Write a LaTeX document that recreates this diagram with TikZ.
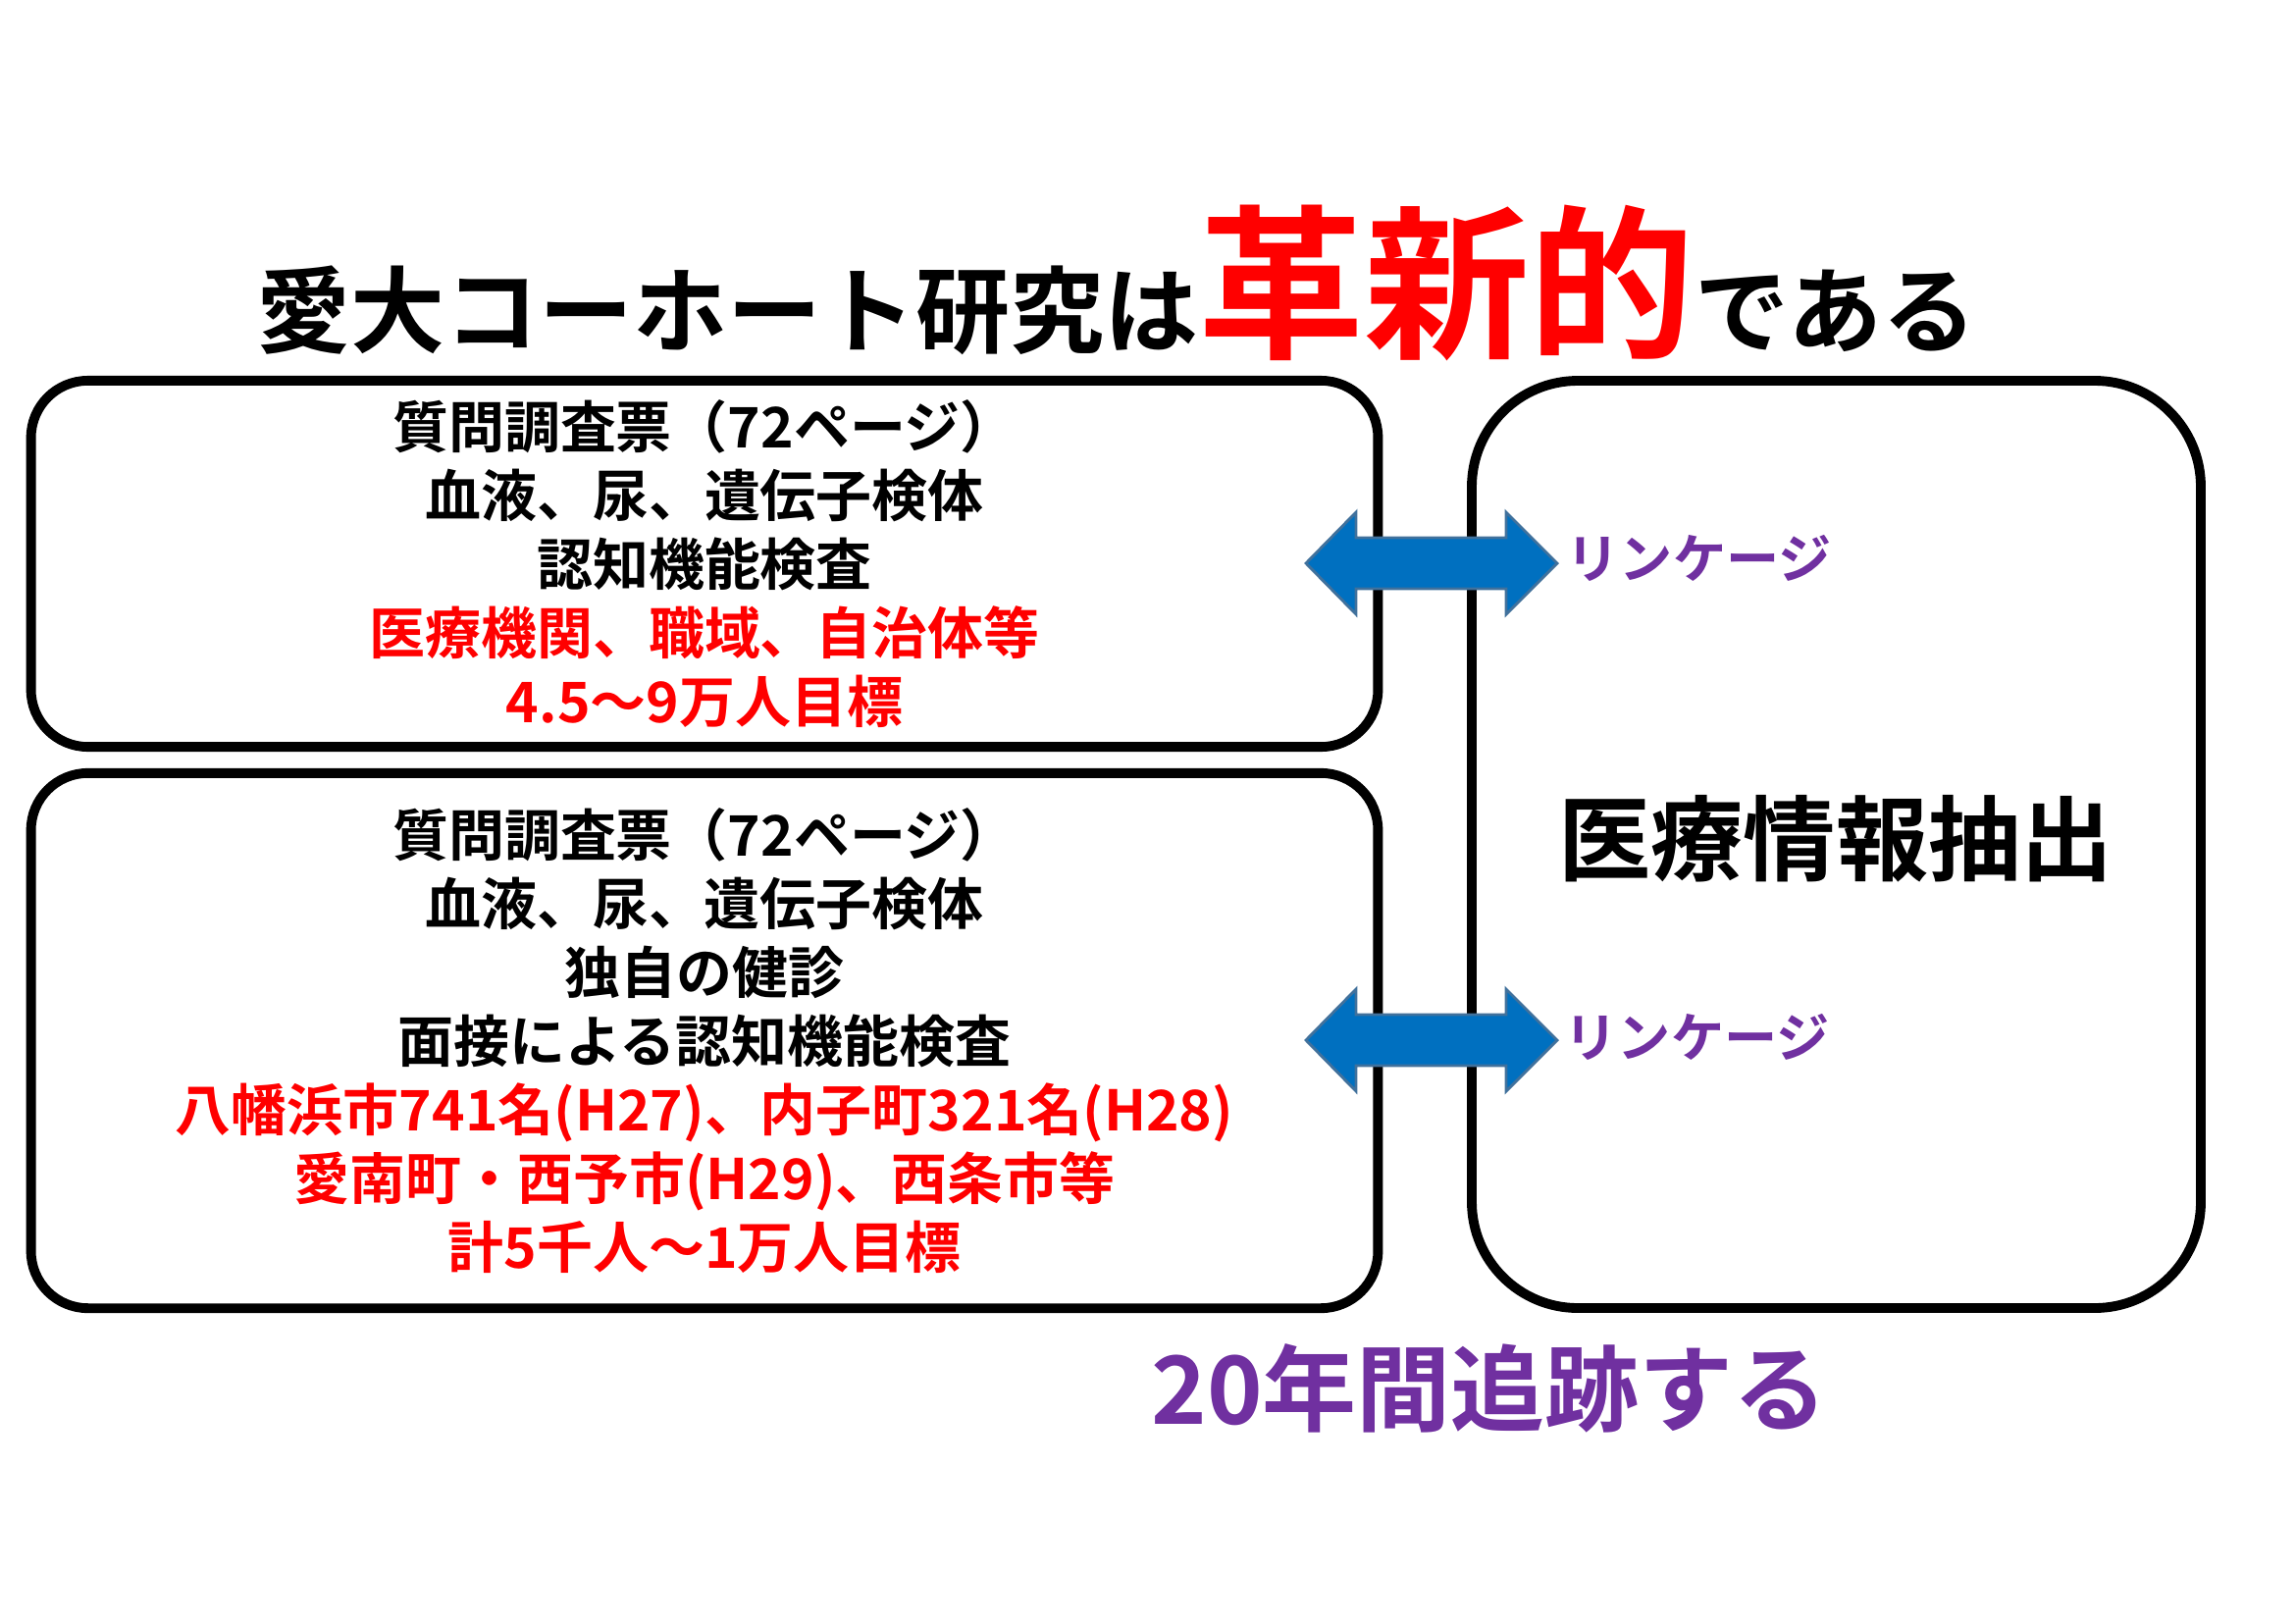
\documentclass[tikz,border=0pt]{standalone}
\usepackage{fontspec}
\setmainfont{Noto Sans CJK JP}[BoldFont={Noto Sans CJK JP Bold}]
\usepackage{tikz}

\definecolor{jred}{HTML}{FF0000}
\definecolor{jpurple}{HTML}{7030A0}
\definecolor{jblue}{HTML}{0070C0}
\definecolor{jedge}{HTML}{41719C}

\begin{document}
\begin{tikzpicture}[x=0.01cm, y=-0.01cm,
  box/.style={draw, line width=2.8pt, rounded corners=0.58cm, align=center,
              inner sep=0pt, font=\bfseries\fontsize{16.2}{19.9}\selectfont},
  linkarrow/.style={fill=jblue, draw=jedge, line width=0.8pt},
  linktext/.style={anchor=west, inner sep=0pt, text=jpurple, font=\bfseries\fontsize{15.4}{18}\selectfont}]
\useasboundingbox (0,0) rectangle (2339,1654);

% Heading
\node[anchor=base, inner sep=0pt, font=\bfseries] (title) at (1138,352)
  {\fontsize{27.3}{30}\selectfont 愛大コーホート研究は\textcolor{jred}{\fontsize{48}{52}\selectfont 革新的}である};

% boxes
\node[box, minimum width=13.72cm, minimum height=3.73cm] (cohortA) at (718,574.5)
  {質問調査票（72ページ）\\
   血液、尿、遺伝子検体\\
   認知機能検査\\
   \textcolor{jred}{医療機関、職域、自治体等}\\
   \textcolor{jred}{4.5～9万人目標}};

\node[box, minimum width=13.72cm, minimum height=5.45cm] (cohortB) at (718,1060.5)
  {質問調査票（72ページ）\\
   血液、尿、遺伝子検体\\
   独自の健診\\
   面接による認知機能検査\\
   \textcolor{jred}{八幡浜市741名(H27)、内子町321名(H28)}\\
   \textcolor{jred}{愛南町・西予市(H29)、西条市等}\\
   \textcolor{jred}{計5千人～1万人目標}};

\draw[line width=2.8pt, rounded corners=1.08cm] (1500,388) rectangle (2243,1333);
\node[inner sep=0pt, font=\bfseries\fontsize{26.8}{30}\selectfont] (medinfo) at (1871,855) {医療情報抽出};

% arrows
\coordinate (lnkA) at (1459,574);
\draw[linkarrow] (lnkA) ++(-128,0) -- ++(51,-52) -- ++(0,26) -- ++(153,0) -- ++(0,-26)
  -- ++(52,52) -- ++(-52,52) -- ++(0,-26) -- ++(-153,0) -- ++(0,26) -- cycle;
\node[linktext] (lnkAtext) at (1596,569) {リンケージ};

\coordinate (lnkB) at (1459,1060);
\draw[linkarrow] (lnkB) ++(-128,0) -- ++(51,-52) -- ++(0,26) -- ++(153,0) -- ++(0,-26)
  -- ++(52,52) -- ++(-52,52) -- ++(0,-26) -- ++(-153,0) -- ++(0,26) -- cycle;
\node[linktext] (lnkBtext) at (1594,1057) {リンケージ};

% follow up
\node[inner sep=0pt, text=jpurple, font=\bfseries\fontsize{27.3}{30}\selectfont] (follow) at (1518,1415) {20年間追跡する};
\end{tikzpicture}
\end{document}
